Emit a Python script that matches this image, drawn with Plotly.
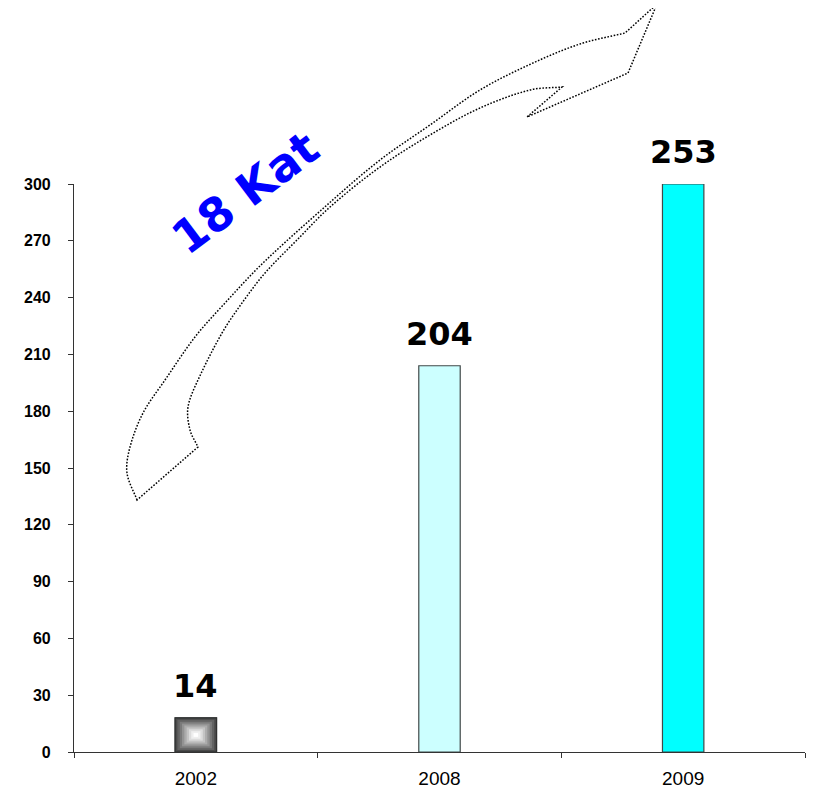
import math
import plotly.graph_objects as go

# ---- data ----
years = ["2002", "2008", "2009"]
bar_heights = [18, 204, 300]
bar_labels = ["14", "204", "253"]
bar_colors = ["#4a4a4a", "#ccffff", "#00ffff"]
y_ticks = [0, 30, 60, 90, 120, 150, 180, 210, 240, 270, 300]
arrow_text = "18 Kat"

OFF = 8  # page body margin
W, H = 801, 782
ML, MT = 74 - OFF, 184 - OFF
MR = W - (805 - OFF)
MB = H - (752 - OFF)
PW, PH = W - ML - MR, H - MT - MB
BAR_W = 0.17

def px(X, Y):
    return (X - OFF - ML) / PW, (H - MB - (Y - OFF)) / PH

fig = go.Figure()
fig.add_trace(go.Bar(
    x=years, y=bar_heights, width=BAR_W,
    marker=dict(color=bar_colors, line=dict(color="#404848", width=1.2)),
    hoverinfo="skip", showlegend=False,
))

# rectangular gradient for the first bar (nested rectangles from dark rim to white centre)
grad = ["#4a4a4a", "#626262", "#7a7a7a", "#939393", "#acacac", "#c4c4c4", "#dcdcdc", "#efefef", "#ffffff"]
n = len(grad)
v0 = bar_heights[0]
for i, c in enumerate(grad[1:], start=1):
    f = 1 - i / n
    fig.add_trace(go.Bar(
        x=[years[0]], y=[v0 * f], base=[v0 * (1 - f) / 2], width=BAR_W * f,
        marker=dict(color=c, line=dict(width=0)),
        hoverinfo="skip", showlegend=False,
    ))
fig.add_trace(go.Bar(
    x=[years[0]], y=[v0], width=BAR_W,
    marker=dict(color="rgba(0,0,0,0)", line=dict(color="#303030", width=1.2)),
    hoverinfo="skip", showlegend=False,
))

# value labels (category index positions)
for i, (h, lab) in enumerate(zip(bar_heights, bar_labels)):
    fig.add_annotation(x=i, y=h, text=f"<b>{lab}</b>", showarrow=False,
                       yanchor="bottom", yshift=11,
                       font=dict(family="DejaVu Sans", size=32, color="black"))

# dotted curved arrow (decoration), outline points in page pixels
outer = [(137, 500), (127, 473), (130, 447), (143, 413), (165, 380), (195, 337),
         (225, 303), (263, 263), (327, 205), (380, 160), (430, 125), (480, 90),
         (533, 63), (580, 44), (625, 33)]
head = [(657, 4), (628, 73), (527, 117), (562, 87)]
inner = [(562, 87), (530, 90), (480, 108), (430, 135), (380, 167), (330, 207),
         (298, 239), (265, 273), (242, 303), (222, 333), (198, 380), (188, 407),
         (190, 430), (198, 447)]

def smooth(points):
    pts = points
    s = ""
    def d(a, b):
        return math.hypot(b[0] - a[0], b[1] - a[1])
    def tangent(i):
        if i == 0:
            return ((pts[1][0] - pts[0][0]), (pts[1][1] - pts[0][1]))
        if i == len(pts) - 1:
            return ((pts[i][0] - pts[i - 1][0]), (pts[i][1] - pts[i - 1][1]))
        a, b, c = pts[i - 1], pts[i], pts[i + 1]
        d0, d1 = d(a, b), d(b, c)
        k = 1.0 / (d0 + d1)
        return ((c[0] - a[0]) * k, (c[1] - a[1]) * k)
    for i in range(len(pts) - 1):
        p1, p2 = pts[i], pts[i + 1]
        seg = d(p1, p2)
        t1, t2 = tangent(i), tangent(i + 1)
        if i == 0:
            t1 = (t1[0] / seg, t1[1] / seg)
        if i + 1 == len(pts) - 1:
            t2 = (t2[0] / seg, t2[1] / seg)
        c1 = (p1[0] + t1[0] * seg / 3, p1[1] + t1[1] * seg / 3)
        c2 = (p2[0] - t2[0] * seg / 3, p2[1] - t2[1] * seg / 3)
        a, b, e = px(*c1), px(*c2), px(*p2)
        s += f" C {a[0]:.4f},{a[1]:.4f} {b[0]:.4f},{b[1]:.4f} {e[0]:.4f},{e[1]:.4f}"
    return s

p0 = px(*outer[0])
path = f"M {p0[0]:.4f},{p0[1]:.4f}" + smooth(outer)
for p in head:
    q = px(*p)
    path += f" L {q[0]:.4f},{q[1]:.4f}"
path += smooth(inner)
path += " Z"
fig.add_shape(type="path", path=path, xref="paper", yref="paper",
              line=dict(color="black", width=1.5, dash="1.6px,1.6px"),
              fillcolor="rgba(0,0,0,0)", layer="above")

tx, ty = px(245, 193)
fig.add_annotation(x=tx, y=ty, xref="paper", yref="paper", text=f"<b>{arrow_text}</b>",
                   showarrow=False, textangle=-37, xanchor="center", yanchor="middle",
                   font=dict(family="DejaVu Sans", size=46, color="#0000ff"))

fig.update_layout(
    width=W, height=H, barmode="overlay",
    margin=dict(l=ML, r=MR, t=MT, b=MB, pad=0, autoexpand=False),
    plot_bgcolor="white", paper_bgcolor="white",
    showlegend=False,
    xaxis=dict(type="category", range=[-0.5, len(years) - 0.5], automargin=False,
               showgrid=False, zeroline=False, showline=True,
               linecolor="#333333", linewidth=1.2, ticks="outside", tickson="boundaries",
               ticklen=5, tickcolor="#333333", tickangle=0,
               tickfont=dict(family="Liberation Sans, Arial", size=19, color="black"),
               ticklabelstandoff=9),
    yaxis=dict(range=[0, 300], tickvals=y_ticks, automargin=False,
               showgrid=False, zeroline=False,
               showline=True, linecolor="#333333", linewidth=1.2, ticks="outside",
               ticklen=5, tickcolor="#333333",
               tickfont=dict(family="Liberation Sans, Arial", size=16, color="black",
                             weight="bold"),
               ticklabelstandoff=14),
)

fig.write_html("out.html")
